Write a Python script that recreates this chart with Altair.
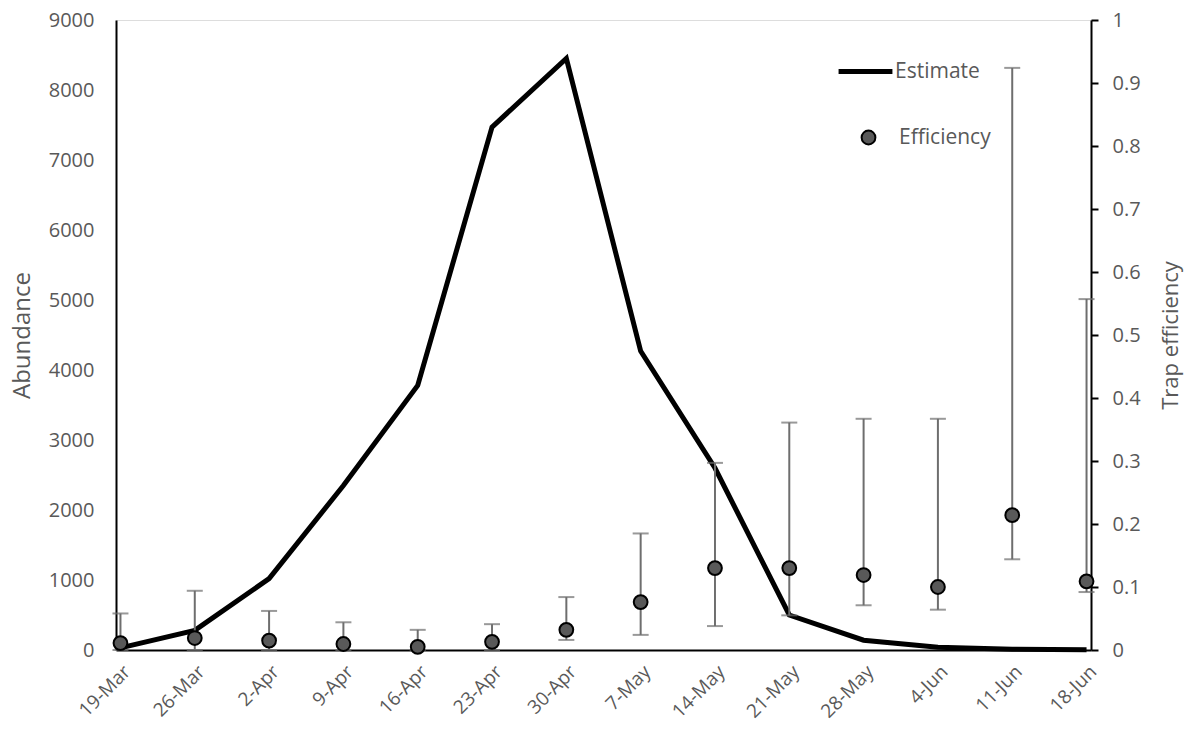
import altair as alt
import pandas as pd

dates = ["19-Mar", "26-Mar", "2-Apr", "9-Apr", "16-Apr", "23-Apr", "30-Apr",
         "7-May", "14-May", "21-May", "28-May", "4-Jun", "11-Jun", "18-Jun"]
estimate = [30, 280, 1020, 2350, 3780, 7470, 8450, 4270, 2600, 500, 140, 40, 12, 5]
efficiency = [0.011, 0.019, 0.015, 0.0095, 0.005, 0.013, 0.032, 0.076, 0.130, 0.130, 0.119, 0.100, 0.214, 0.109]
eff_low = [0.0, 0.0, 0.0, 0.0, 0.0, 0.0, 0.016, 0.024, 0.038, 0.055, 0.071, 0.064, 0.144, 0.092]
eff_high = [0.058, 0.094, 0.062, 0.044, 0.032, 0.041, 0.084, 0.185, 0.297, 0.361, 0.367, 0.367, 0.924, 0.557]

df = pd.DataFrame({
    "date": dates,
    "estimate": estimate,
    "eff": efficiency,
    "lo": eff_low,
    "hi": eff_high,
    "s1": "Estimate",
    "s2": "Efficiency",
})

FONT = "Open Sans"
GREY = "#595959"

x = alt.X("date:N", sort=dates,
          scale=alt.Scale(type="point", padding=0.06),
          axis=alt.Axis(title=None, labelAngle=-45, labelAlign="right", labelBaseline="top",
                        labelFontSize=19, labelColor=GREY, labelFont=FONT, ticks=False,
                        domainColor="black", domainWidth=2, labelPadding=12))

line = alt.Chart(df).mark_line(strokeWidth=5, strokeJoin="miter").encode(
    x=x,
    y=alt.Y("estimate:Q", scale=alt.Scale(domain=[0, 9000], nice=False),
            axis=alt.Axis(title="Abundance", values=list(range(0, 9001, 1000)), format="d",
                          ticks=False, grid=False, domainColor="black", domainWidth=2,
                          labelFontSize=20, labelColor=GREY, labelFont=FONT, labelPadding=22,
                          titleFontSize=24, titleColor=GREY, titleFont=FONT, titleFontWeight="normal",
                          titlePadding=14)),
    color=alt.Color("s1:N", scale=alt.Scale(range=["black"]),
                    legend=alt.Legend(title=None, orient="none", legendX=720, legendY=22,
                                      symbolType="stroke", symbolStrokeWidth=5, symbolSize=2900,
                                      labelFontSize=21, labelColor=GREY, labelFont=FONT, labelOffset=0)),
)

yscale = alt.Scale(domain=[0, 1], nice=False)
right_axis = alt.Axis(title="Trap efficiency", orient="right", titleAngle=270,
                      values=[0, 0.1, 0.2, 0.3, 0.4, 0.5, 0.6, 0.7, 0.8, 0.9, 1],
                      format="~g", grid=False, domainColor="black", domainWidth=2,
                      tickColor="black", tickWidth=2, tickSize=7,
                      labelFontSize=20, labelColor=GREY, labelFont=FONT, labelPadding=14,
                      titleFontSize=22, titleColor=GREY, titleFont=FONT, titleFontWeight="normal",
                      titlePadding=42)

rules = alt.Chart(df).mark_rule(color="#6e6e6e", strokeWidth=2).encode(
    x=x,
    y=alt.Y("lo:Q", scale=yscale, axis=right_axis),
    y2="hi:Q",
)
cap_hi = alt.Chart(df).mark_tick(color="#6e6e6e", thickness=2, size=16, orient="horizontal").encode(
    x=x, y=alt.Y("hi:Q", scale=yscale, axis=right_axis))
cap_lo = alt.Chart(df).mark_tick(color="#6e6e6e", thickness=2, size=16, orient="horizontal").encode(
    x=x, y=alt.Y("lo:Q", scale=yscale, axis=right_axis))

points = alt.Chart(df).mark_point(filled=True, size=190, stroke="black", strokeWidth=2,
                                  opacity=1, shape="circle").encode(
    x=x,
    y=alt.Y("eff:Q", scale=yscale, axis=right_axis),
    fill=alt.Fill("s2:N", scale=alt.Scale(range=[GREY]),
                  legend=alt.Legend(title=None, orient="none", legendX=742, legendY=107,
                                    symbolType="circle", symbolSize=190, symbolStrokeColor="black",
                                    symbolStrokeWidth=2, labelFontSize=21, labelColor=GREY,
                                    labelFont=FONT, labelOffset=20)),
)

right = alt.layer(rules, cap_hi, cap_lo, points)

chart = alt.layer(line, right).resolve_scale(y="independent", color="independent").properties(
    width=975, height=630,
    autosize=alt.AutoSizeParams(type="none"),
    padding={"left": 116, "top": 20, "right": 98, "bottom": 88},
).configure_view(stroke=None).configure(background="white")

chart.save("out.html", embed_options={"renderer": "svg", "actions": False})
